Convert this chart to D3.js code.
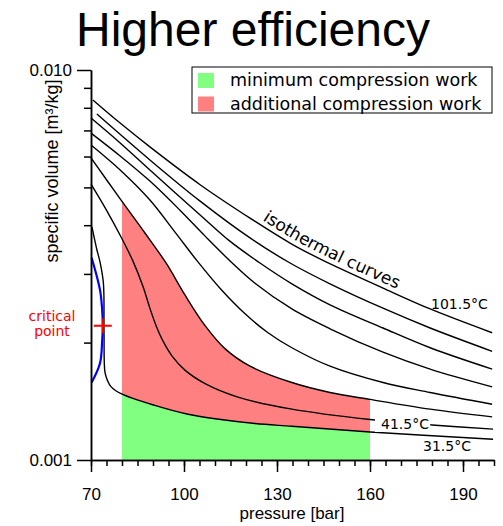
<!DOCTYPE html>
<html>
<head>
<meta charset="utf-8">
<script src="https://cdn.jsdelivr.net/npm/d3@7"></script>
<style>
  body { margin: 0; background: #fff; }
  svg { display: block; }
</style>
</head>
<body>
<div id="chart"></div>
<script>
// CO2 isotherms: [pressure bar, specific volume m3/kg]
const iso101 = [[70.6,0.00838],[79.4,0.00731],[89.0,0.00635],[105.2,0.00508],[121.3,0.00417],[134.2,0.00360],[144.5,0.00326],[164.2,0.00276],[179.4,0.00244],[199.4,0.00212]];
const iso91 = [[71.9,0.00771],[89.0,0.00588],[105.2,0.00461],[121.3,0.00371],[134.2,0.00320],[147.1,0.00283],[164.2,0.00245],[179.4,0.00218],[199.4,0.00190]];
const iso81 = [[70.0,0.00753],[79.4,0.00650],[89.0,0.00554],[105.2,0.00425],[114.8,0.00364],[124.5,0.00320],[134.8,0.00283],[147.1,0.00250],[164.2,0.00218],[179.4,0.00194],[199.4,0.00171]];
const iso71 = [[70.0,0.00689],[79.4,0.00602],[89.0,0.00519],[98.7,0.00437],[106.8,0.00375],[115.2,0.00322],[122.9,0.00284],[134.8,0.00244],[147.1,0.00217],[164.2,0.00189],[179.4,0.00171],[199.4,0.00154]];
const iso61 = [[70.0,0.00642],[79.4,0.00554],[89.0,0.00464],[97.1,0.00384],[104.5,0.00322],[111.9,0.00274],[119.7,0.00237],[127.1,0.00212],[134.8,0.00194],[147.1,0.00174],[164.2,0.00158],[179.4,0.00149],[199.4,0.00139]];
const iso51 = [[70.0,0.00595],[79.7,0.00464],[87.4,0.00382],[94.2,0.00320],[100.3,0.00265],[106.8,0.00221],[113.2,0.00193],[121.3,0.00174],[134.8,0.00158],[147.1,0.00149],[160.0,0.00143],[179.4,0.00135],[199.4,0.00129]];
const iso41 = [[70.0,0.00510],[74.8,0.00440],[79.7,0.00373],[83.5,0.00324],[86.8,0.00278],[89.0,0.00245],[91.0,0.00221],[93.2,0.00202],[96.1,0.00185],[100.3,0.00170],[106.8,0.00157],[117.4,0.00145],[134.8,0.00135],[160.0,0.00127],[180.0,0.00123],[199.7,0.00120]];
const iso31 = [[70.3,0.00396],[71.9,0.00346],[72.9,0.00322],[74.0,0.00284],[74.2,0.00212],[74.5,0.00168],[75.3,0.00160],[76.5,0.00154],[79.7,0.00148],[90.6,0.00138],[101.3,0.00131],[111.9,0.00127],[122.9,0.00124],[134.8,0.00122],[160.0,0.00118],[199.7,0.00113]];

const saturation = [[70.2,0.00330],[72.9,0.00273],[73.6,0.00243],[73.8,0.00221],[73.6,0.00202],[72.9,0.00177],[70.2,0.00158]];
const criticalPoint = [73.8, 0.00221];
const workRange = [80, 160];

const xMajor = [70, 100, 130, 160, 190];
const xMinor = d3.range(70, 201, 5);
const yMajor = [0.001, 0.01];
const yMinor = [0.002, 0.003, 0.004, 0.005, 0.006, 0.007, 0.008, 0.009];

const legendItems = [
  { label: "minimum compression work", color: "#80ff80" },
  { label: "additional compression work", color: "#ff8080" },
];

const width = 503;
const height = 526;

const x = d3.scaleLinear().domain([70, 200]).range([91, 494]);
const y = d3.scaleLog().domain([0.001, 0.01]).range([460, 70]);

const svg = d3
  .select("#chart")
  .append("svg")
  .attr("width", width)
  .attr("height", height)
  .style("font-family", "'Liberation Sans', Arial, sans-serif");

const line = d3
  .line()
  .x((d) => x(d[0]))
  .y((d) => y(d[1]))
  .curve(d3.curveCatmullRom.alpha(0.5));

const area = d3
  .area()
  .x((d) => x(d[0]))
  .y0(y(0.001))
  .y1((d) => y(d[1]))
  .curve(d3.curveCatmullRom.alpha(0.5));

/* Work areas */
svg
  .append("clipPath")
  .attr("id", "work-clip")
  .append("rect")
  .attr("x", x(workRange[0]))
  .attr("y", y(0.01))
  .attr("width", x(workRange[1]) - x(workRange[0]))
  .attr("height", y(0.001) - y(0.01));

svg
  .append("path")
  .attr("d", area(iso51))
  .attr("fill", "#ff8080")
  .attr("clip-path", "url(#work-clip)");

svg
  .append("path")
  .attr("d", area(iso31))
  .attr("fill", "#80ff80")
  .attr("clip-path", "url(#work-clip)");

/* Isotherms */
const isotherms = [iso31, iso41, iso51, iso61, iso71, iso81, iso91, iso101];

svg
  .append("g")
  .selectAll("path")
  .data(isotherms)
  .join("path")
  .attr("d", line)
  .attr("fill", "none")
  .attr("stroke", "#000")
  .attr("stroke-width", 1.4);

/* Saturation curve + critical point */
svg
  .append("path")
  .attr("d", line(saturation))
  .attr("fill", "none")
  .attr("stroke", "#0000ff")
  .attr("stroke-width", 2.2);

const cx = x(criticalPoint[0]);
const cy = y(criticalPoint[1]);
svg
  .append("path")
  .attr("d", `M${cx - 9},${cy}H${cx + 9}M${cx},${cy - 7.5}V${cy + 7.5}`)
  .attr("stroke", "#ff0000")
  .attr("stroke-width", 2);

svg
  .append("text")
  .attr("x", 52)
  .attr("y", 321)
  .attr("text-anchor", "middle")
  .attr("fill", "#ff0000")
  .style("font-family", "'DejaVu Sans', Verdana, sans-serif")
  .style("font-size", "14px")
  .selectAll("tspan")
  .data(["critical", "point"])
  .join("tspan")
  .attr("x", 52)
  .attr("dy", (d, i) => (i === 0 ? 0 : 15))
  .text((d) => d);

/* Curve labels */
const labelFont = "'DejaVu Sans', Verdana, sans-serif";

const l41 = svg
  .append("text")
  .attr("x", 381)
  .attr("y", 429)
  .style("font-family", labelFont)
  .style("font-size", "14px")
  .text("41.5°C");
const bb = l41.node().getBBox();
svg
  .insert("rect", () => l41.node())
  .attr("x", bb.x - 6)
  .attr("y", bb.y)
  .attr("width", bb.width + 7)
  .attr("height", bb.height)
  .attr("fill", "#fff");

svg
  .append("text")
  .attr("x", 431)
  .attr("y", 309)
  .style("font-family", labelFont)
  .style("font-size", "14px")
  .text("101.5°C");

svg
  .append("text")
  .attr("x", 423)
  .attr("y", 451)
  .style("font-family", labelFont)
  .style("font-size", "14px")
  .text("31.5°C");

/* isothermal curves text along the top isotherm */
const topPath = svg
  .append("path")
  .attr("id", "top-iso")
  .attr("d", line(iso101))
  .attr("fill", "none");
const node = topPath.node();
let offset = 0;
for (let s = 0; s < node.getTotalLength(); s += 1) {
  if (node.getPointAtLength(s).x >= 259) {
    offset = s;
    break;
  }
}
svg
  .append("text")
  .attr("dy", -5)
  .style("font-family", labelFont)
  .style("font-size", "17px")
  .append("textPath")
  .attr("href", "#top-iso")
  .attr("startOffset", offset)
  .text("isothermal curves");

/* Axes */
const xMinorAxis = d3.axisBottom(x).tickValues(xMinor).tickSize(6).tickSizeOuter(0).tickFormat("");
const xMajorAxis = d3.axisBottom(x).tickValues(xMajor).tickSize(12).tickSizeOuter(0).tickPadding(16);
const yMinorAxis = d3.axisLeft(y).tickValues(yMinor).tickSize(7).tickSizeOuter(0).tickFormat("");
const yMajorAxis = d3.axisLeft(y).tickValues(yMajor).tickSize(14).tickSizeOuter(0).tickPadding(5).tickFormat(d3.format(".3f"));

function styleAxis(g) {
  g.selectAll("path, line").attr("stroke", "#000").attr("stroke-width", 1.5);
  g.selectAll("text")
    .attr("fill", "#000")
    .style("font-family", "'Liberation Sans', Arial, sans-serif")
    .style("font-size", "17px");
}

svg.append("g").attr("transform", `translate(0,${y(0.001)})`).call(xMinorAxis).call(styleAxis);
svg.append("g").attr("transform", `translate(0,${y(0.001)})`).call(xMajorAxis).call(styleAxis);
svg.append("g").attr("transform", `translate(${x(70)},0)`).call(yMinorAxis).call(styleAxis);
svg.append("g").attr("transform", `translate(${x(70)},0)`).call(yMajorAxis).call(styleAxis);

svg
  .append("text")
  .attr("x", 292)
  .attr("y", 519)
  .attr("text-anchor", "middle")
  .style("font-size", "17px")
  .text("pressure [bar]");

svg
  .append("text")
  .attr("transform", "translate(58,171) rotate(-90)")
  .attr("text-anchor", "middle")
  .style("font-size", "18px")
  .text("specific volume [m³/kg]");

/* Title */
svg
  .append("text")
  .attr("x", 253)
  .attr("y", 46)
  .attr("text-anchor", "middle")
  .style("font-size", "48px")
  .text("Higher efficiency");

/* Legend */
const legend = svg.append("g").attr("transform", "translate(192,67)");
legend
  .append("rect")
  .attr("width", 300)
  .attr("height", 46)
  .attr("fill", "#fff")
  .attr("stroke", "#000")
  .attr("stroke-width", 1);

const items = legend
  .selectAll("g")
  .data(legendItems)
  .join("g")
  .attr("transform", (d, i) => `translate(0,${i * 23.5})`);
items
  .append("rect")
  .attr("x", 6)
  .attr("y", 6)
  .attr("width", 16)
  .attr("height", 15)
  .attr("fill", (d) => d.color);
items
  .append("text")
  .attr("x", 38)
  .attr("y", 19)
  .style("font-family", labelFont)
  .style("font-size", "17.5px")
  .text((d) => d.label);
</script>
</body>
</html>
